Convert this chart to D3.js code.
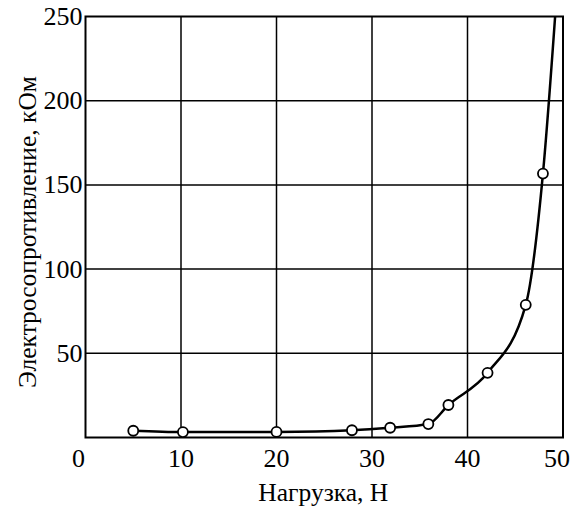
<!DOCTYPE html>
<html>
<head>
<meta charset="utf-8">
<script src="https://cdn.jsdelivr.net/npm/d3@7"></script>
<style>
    body { margin: 0; background: #fff; }
    .lbl { font-family: "Liberation Serif"; fill: #000; }
</style>
</head>
<body>
<div id="chart"></div>
<script>
// measured points (load, N / resistance, kOhm)
const loads = [5, 10.2, 20, 27.9, 31.9, 35.9, 38, 42.1, 46.1, 47.9];
const resistance = [4.0, 3.2, 3.3, 4.3, 5.8, 8.0, 19.3, 38.4, 78.8, 156.7];
// curve continues past the last point, up to the top of the chart
const tailLoad = [49.2];
const tailResistance = [252];

const xTicks = [0, 10, 20, 30, 40, 50];
const yTicks = [50, 100, 150, 200, 250];

const config = {
    containerWidth: 571,
    containerHeight: 509,
    margin: { top: 16.5, right: 8, bottom: 71.5, left: 85.5 }
};
const width = config.containerWidth - config.margin.left - config.margin.right;
const height = config.containerHeight - config.margin.top - config.margin.bottom;

const svg = d3.select("#chart")
    .append("svg")
    .attr("width", config.containerWidth)
    .attr("height", config.containerHeight);

const g = svg.append("g")
    .attr("transform", `translate(${config.margin.left},${config.margin.top})`);

const xScale = d3.scaleLinear().domain([0, 50]).range([0, width]);
const yScale = d3.scaleLinear().domain([0, 250]).range([height, 0]);

// grid
g.selectAll(".vgrid")
    .data(xTicks.slice(1, -1))
    .enter().append("line")
    .attr("x1", d => xScale(d)).attr("x2", d => xScale(d))
    .attr("y1", 0).attr("y2", height)
    .attr("stroke", "#000").attr("stroke-width", 1.5);

g.selectAll(".hgrid")
    .data(yTicks.slice(0, -1))
    .enter().append("line")
    .attr("x1", 0).attr("x2", width)
    .attr("y1", d => yScale(d)).attr("y2", d => yScale(d))
    .attr("stroke", "#000").attr("stroke-width", 1.5);

g.append("rect")
    .attr("width", width).attr("height", height)
    .attr("fill", "none").attr("stroke", "#000").attr("stroke-width", 2);

// tick labels
g.selectAll(".xlab")
    .data(xTicks)
    .enter().append("text")
    .attr("class", "lbl")
    .attr("x", d => xScale(d))
    .attr("dx", d => d === 0 ? -7 : (d === 50 ? -6 : 0))
    .attr("y", height + 29)
    .attr("text-anchor", "middle")
    .attr("font-size", 26)
    .text(d => d);

g.selectAll(".ylab")
    .data(yTicks)
    .enter().append("text")
    .attr("class", "lbl")
    .attr("x", -3)
    .attr("y", d => yScale(d) + 8.5)
    .attr("text-anchor", "end")
    .attr("font-size", 26)
    .text(d => d);

// axis titles
svg.append("text")
    .attr("class", "lbl")
    .attr("x", config.margin.left + width / 2 - 1)
    .attr("y", 501)
    .attr("text-anchor", "middle")
    .attr("font-size", 25.5)
    .text("Нагрузка, Н");

svg.append("text")
    .attr("class", "lbl")
    .attr("transform", `translate(36,${config.margin.top + height / 2 + 5}) rotate(-90)`)
    .attr("text-anchor", "middle")
    .attr("font-size", 25.5)
    .text("Электросопротивление, кОм");

// curve
g.append("clipPath").attr("id", "clip")
    .append("rect").attr("width", width).attr("height", height);

const points = loads.map((d, i) => ({ x: d, y: resistance[i] }));
const curvePoints = points.concat(tailLoad.map((d, i) => ({ x: d, y: tailResistance[i] })));

const line = d3.line()
    .x(d => xScale(d.x))
    .y(d => yScale(d.y))
    .curve(d3.curveMonotoneX);

g.append("path")
    .datum(curvePoints)
    .attr("clip-path", "url(#clip)")
    .attr("d", line)
    .attr("fill", "none")
    .attr("stroke", "#000")
    .attr("stroke-width", 2.5);

g.selectAll(".pt")
    .data(points)
    .enter().append("circle")
    .attr("cx", d => xScale(d.x))
    .attr("cy", d => yScale(d.y))
    .attr("r", 5)
    .attr("fill", "#fff")
    .attr("stroke", "#000")
    .attr("stroke-width", 1.8);
</script>
</body>
</html>
